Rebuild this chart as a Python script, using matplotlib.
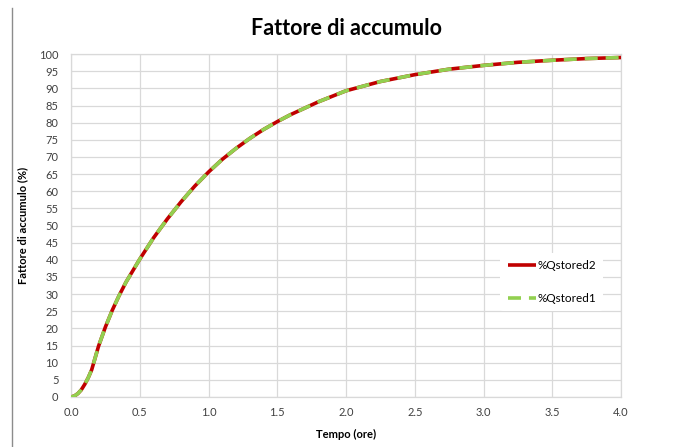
import numpy as np
import matplotlib
matplotlib.use("Agg")
import matplotlib.pyplot as plt
from matplotlib.lines import Line2D

plt.rcParams['font.family'] = ['Lato', 'DejaVu Sans']

# tempo (ore) e fattore di accumulo (%)
tempo = [0.0, 0.025, 0.05, 0.075, 0.1, 0.125, 0.15, 0.2, 0.25, 0.3, 0.35, 0.4, 0.5,
         0.6, 0.7, 0.8, 0.9, 1.0, 1.1, 1.2, 1.3, 1.4, 1.5, 1.6, 1.8, 2.0, 2.25,
         2.5, 2.75, 3.0, 3.25, 3.5, 3.75, 4.0]
qstored2 = [0.0, 0.3, 1.0, 2.1, 3.7, 5.6, 7.9, 14.8, 20.4, 25.3, 29.6, 33.5, 40.2,
            46.4, 51.9, 56.9, 61.5, 65.6, 69.3, 72.5, 75.4, 78.0, 80.3, 82.4,
            86.1, 89.3, 92.0, 94.0, 95.6, 96.7, 97.6, 98.2, 98.7, 99.0]
qstored1 = list(qstored2)

xticks = np.arange(0, 4.01, 0.5)
yticks = np.arange(0, 101, 5)

fig = plt.figure(figsize=(6.79, 4.47), dpi=100)
ax = fig.add_axes([0.1046, 0.1119, 0.81, 0.7671])

ax.plot(tempo, qstored2, color='#C00000', lw=2.6, label='%Qstored2',
        solid_capstyle='butt', solid_joinstyle='round', zorder=3)
ax.plot(tempo, qstored1, color='#92D050', lw=2.6, label='%Qstored1',
        dashes=(3.6, 2.2), dash_capstyle='butt', dash_joinstyle='round', zorder=4)

ax.set_xlim(0, 4)
ax.set_ylim(0, 100)
ax.set_xticks(xticks)
ax.set_xticklabels([f"{v:.1f}" for v in xticks])
ax.set_yticks(yticks)
ax.tick_params(length=0, labelsize=8, colors='#404040')
ax.tick_params(axis='y', pad=9)
ax.tick_params(axis='x', pad=7)
ax.grid(True, color='#d9d9d9', lw=0.9)
ax.set_axisbelow(True)
for s in ax.spines.values():
    s.set_color('#d9d9d9')
    s.set_linewidth(0.9)

ax.set_title('Fattore di accumulo', fontsize=15.5, fontweight='bold', pad=14)
ax.set_xlabel('Tempo (ore)', fontsize=8, fontweight='bold', labelpad=8)
ax.set_ylabel('Fattore di accumulo (%)', fontsize=8, fontweight='bold', labelpad=8)

leg = ax.legend(loc='center left', bbox_to_anchor=(0.77, 0.335), frameon=True,
                fontsize=8.5, handlelength=2.4, handletextpad=0.1,
                labelspacing=1.8, borderpad=0.6)
leg.get_frame().set_edgecolor('none')
leg.get_frame().set_facecolor('white')
leg.get_frame().set_alpha(1)

# bordo sinistro della finestra
fig.add_artist(Line2D([12 / 679, 12 / 679], [0, 1 - 8 / 447], color='#8c8c8c', lw=1))

fig.savefig('out.png', dpi=100)
